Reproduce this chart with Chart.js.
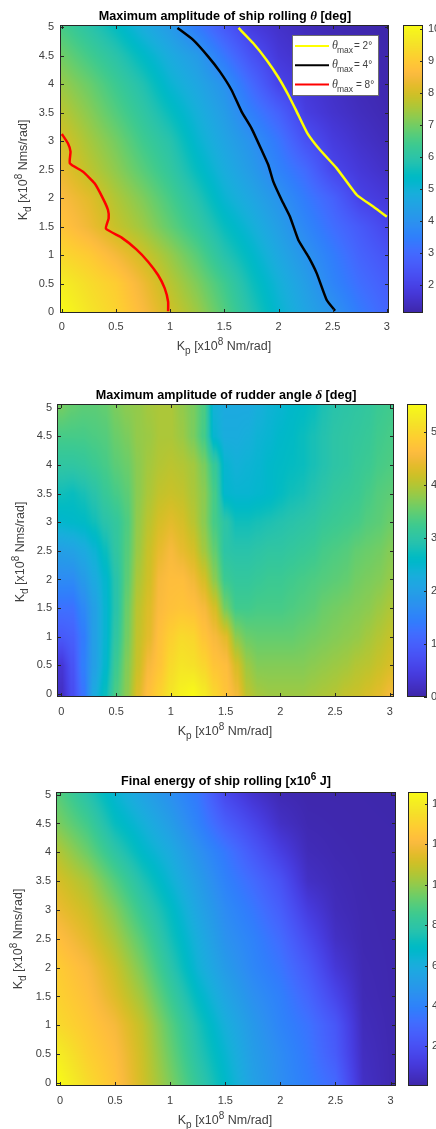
<!DOCTYPE html>
<html><head><meta charset="utf-8">
<style>html,body{margin:0;padding:0;background:#fff;overflow:hidden;width:436px;height:1129px}canvas{position:absolute;display:block}</style>
<script src="https://cdn.jsdelivr.net/npm/chart.js@4/dist/chart.umd.min.js"></script>
</head><body>
<script>
// ---------- values ----------
const kdGrid=[0,0.5,1,1.5,2,2.5,3,3.5,4,4.5,5];
const kpCoarse=[0,0.25,0.5,0.75,1,1.25,1.5,1.75,2,2.25,2.5,2.75,3];
const kpFine=[0,0.1,0.2,0.3,0.4,0.5,0.6,0.7,0.8,0.9,1,1.1,1.2,1.3,1.4,1.5,1.6,1.7,1.8,1.9,2,2.1,2.2,2.3,2.4,2.5,2.6,2.7,2.8,2.9,3];
// rows go from Kd = 0 to Kd = 5
const thetaMax=[
[10.1,9.6,9.2,8.6,7.95,7.4,6.65,5.85,5.15,4.55,4.05,3.4,2.9],
[9.8,9.4,9.05,8.4,7.7,7.1,6.4,5.6,4.95,4.35,3.65,3.1,2.7],
[9.3,9.0,8.5,7.95,7.35,6.7,5.9,5.3,4.65,4.05,3.45,2.85,2.45],
[8.85,8.4,7.85,7.4,6.8,6.2,5.5,4.95,4.35,3.7,3.1,2.6,2.1],
[8.6,8.2,7.6,7.1,6.5,5.85,5.1,4.6,4.05,3.4,2.8,2.0,1.75],
[8.3,7.75,7.25,6.7,6.15,5.45,4.8,4.25,3.6,3.0,2.1,1.75,1.5],
[8.05,7.5,7.0,6.4,5.9,5.15,4.55,4.0,3.3,2.4,1.85,1.55,1.35],
[7.7,7.2,6.65,6.1,5.5,4.9,4.3,3.5,2.8,1.9,1.6,1.4,1.25],
[7.35,6.9,6.35,5.8,5.1,4.6,4.0,3.0,2.05,1.7,1.5,1.3,1.2],
[6.95,6.45,5.95,5.35,4.75,4.25,3.3,2.4,1.75,1.5,1.35,1.25,1.18],
[6.5,6.0,5.45,4.8,4.25,3.4,2.6,1.85,1.55,1.35,1.25,1.2,1.15]];
const rudderMax=[
[0.2,0.7,1.3,2.2,2.7,3.35,3.75,4.3,4.7,4.95,5.2,5.4,5.5,5.3,5.0,4.75,4.5,4.05,3.9,3.85,3.85,3.85,3.85,3.9,3.95,4.0,4.1,4.15,4.25,4.35,4.5],
[0.35,0.8,1.45,2.0,2.5,3.2,3.7,4.15,4.55,4.75,5.05,5.2,5.15,5.0,4.75,4.65,4.25,3.85,3.7,3.7,3.7,3.7,3.7,3.75,3.8,3.85,3.9,4.0,4.05,4.15,4.25],
[0.9,1.0,1.4,2.0,2.45,3.05,3.6,4.1,4.35,4.7,4.9,5.05,5.0,4.75,4.55,4.35,3.75,3.55,3.5,3.5,3.5,3.5,3.55,3.6,3.65,3.7,3.75,3.8,3.9,4.0,4.1],
[1.25,1.25,1.6,2.0,2.45,2.95,3.55,4.05,4.3,4.6,4.7,4.75,4.7,4.55,4.25,3.6,3.25,3.25,3.3,3.3,3.3,3.35,3.4,3.45,3.55,3.6,3.65,3.7,3.75,3.85,3.95],
[1.65,1.65,1.9,2.2,2.5,2.95,3.45,3.95,4.2,4.55,4.65,4.65,4.5,4.25,3.75,3.2,3.1,3.1,3.15,3.2,3.2,3.25,3.3,3.35,3.4,3.45,3.5,3.6,3.65,3.7,3.8],
[2.0,2.05,2.2,2.4,2.7,3.05,3.4,3.85,4.15,4.4,4.55,4.4,4.25,3.9,3.5,3.0,2.95,2.95,3.0,3.05,3.05,3.1,3.15,3.2,3.3,3.35,3.4,3.5,3.55,3.6,3.7],
[2.5,2.55,2.6,2.75,2.95,3.1,3.35,3.8,4.05,4.25,4.35,4.25,4.05,3.75,3.3,3.0,2.75,2.75,2.8,2.85,2.9,2.95,3.0,3.05,3.15,3.2,3.25,3.3,3.4,3.45,3.55],
[2.75,2.7,2.8,2.95,3.15,3.3,3.45,3.75,3.95,4.1,4.15,4.1,3.95,3.75,3.3,2.5,2.45,2.45,2.5,2.55,2.65,2.75,2.8,2.9,3.0,3.1,3.15,3.2,3.3,3.4,3.45],
[3.05,3.05,3.1,3.2,3.3,3.45,3.55,3.75,3.9,4.0,4.05,4.0,3.9,3.65,3.15,2.45,2.35,2.4,2.45,2.55,2.6,2.65,2.7,2.8,2.9,3.0,3.05,3.15,3.2,3.3,3.35],
[3.3,3.3,3.3,3.35,3.4,3.55,3.65,3.8,3.85,3.95,3.95,3.85,3.65,3.3,2.45,2.25,2.25,2.3,2.4,2.45,2.55,2.6,2.7,2.8,2.9,3.0,3.05,3.1,3.15,3.25,3.3],
[3.6,3.5,3.45,3.45,3.5,3.65,3.75,3.8,3.9,3.95,3.95,3.8,3.65,3.35,2.35,2.2,2.2,2.2,2.3,2.4,2.45,2.55,2.6,2.7,2.85,2.95,3.0,3.05,3.1,3.2,3.25]];
const finalEnergy=[
[14.5,13.4,12.5,11.1,9.7,8.2,6.8,5.4,4.5,3.8,3.0,0.6,0.2],
[14.0,13.0,12.3,11.0,9.4,7.8,6.5,5.2,4.4,3.6,2.5,0.5,0.2],
[13.3,12.7,12.0,10.8,9.1,7.5,6.1,5.0,4.1,3.4,2.3,0.4,0.18],
[13.0,12.4,11.4,10.2,8.5,6.9,5.6,4.6,3.9,2.9,1.6,0.3,0.16],
[12.8,12.1,11.0,9.6,7.9,6.3,5.1,4.2,3.5,2.4,1.0,0.25,0.15],
[12.3,11.5,10.4,9.0,7.4,6.0,4.7,4.0,3.1,1.8,0.6,0.2,0.14],
[11.7,11.0,9.8,8.3,7.0,5.6,4.4,3.6,2.6,1.2,0.4,0.18,0.13],
[11.2,10.4,9.0,7.6,6.4,5.2,4.0,3.1,2.1,0.6,0.3,0.16,0.12],
[10.5,9.4,8.0,6.8,5.9,4.7,3.6,2.4,1.3,0.35,0.2,0.14,0.12],
[9.6,8.6,7.1,6.2,5.2,4.0,2.6,1.6,0.6,0.2,0.15,0.12,0.11],
[9.0,7.8,6.5,5.5,4.6,3.6,1.7,0.8,0.25,0.12,0.12,0.11,0.1]];
// contour lines of the first panel, as [Kp, Kd]
const contour2=[[1.631,4.988],[1.767,4.719],[1.89,4.426],[1.998,4.122],[2.091,3.811],[2.168,3.519],[2.267,3.138],[2.384,2.845],[2.538,2.523],[2.723,2.055],[2.877,1.85],[3,1.674]];
const contour4=[[1.067,4.988],[1.212,4.778],[1.351,4.485],[1.459,4.221],[1.566,3.899],[1.659,3.519],[1.751,3.226],[1.844,2.845],[1.906,2.582],[1.952,2.289],[2.029,1.967],[2.106,1.674],[2.183,1.265],[2.276,0.972],[2.353,0.679],[2.445,0.211],[2.522,0.023]];
const contour8=[[0,3.126],[0.056,2.963],[0.08,2.816],[0.074,2.611],[0.194,2.465],[0.302,2.26],[0.379,1.996],[0.426,1.792],[0.432,1.645],[0.407,1.464],[0.549,1.311],[0.688,1.101],[0.796,0.884],[0.888,0.65],[0.95,0.416],[0.981,0.181],[0.981,0.012]];
const legendLabels=['2°','4°','8°'];

// ---------- colour map (parula) ----------
const parula=[[.2422,.1504,.6603],[.2504,.165,.7076],[.2578,.1818,.7511],[.2647,.1978,.7952],[.2706,.2147,.8364],[.2751,.2342,.871],[.2783,.2559,.8991],[.2803,.2782,.9221],[.2813,.3006,.9414],[.281,.3228,.9579],[.2795,.3447,.9717],[.276,.3667,.9829],[.2699,.3892,.9906],[.2602,.4123,.9952],[.244,.4358,.9988],[.2206,.4603,.9973],[.1963,.4847,.9892],[.1834,.5074,.9798],[.1786,.5289,.9682],[.1764,.5499,.952],[.1687,.5703,.9359],[.154,.5902,.9218],[.146,.6091,.9079],[.138,.6276,.8973],[.1248,.6459,.8883],[.1113,.6635,.8763],[.0952,.6798,.8598],[.0689,.6948,.8394],[.0297,.7082,.8163],[.0036,.7203,.7917],[.0067,.7312,.766],[.0433,.7411,.7394],[.0964,.75,.712],[.1408,.7584,.6842],[.1717,.767,.6554],[.1938,.7758,.6251],[.2161,.7843,.5923],[.247,.7918,.5567],[.2906,.7973,.5188],[.3406,.8008,.4789],[.3909,.8029,.4354],[.4456,.8024,.3909],[.5044,.7993,.348],[.5616,.7942,.3045],[.6174,.7876,.2612],[.672,.7793,.2227],[.7242,.7698,.191],[.7738,.7598,.1646],[.8203,.7498,.1535],[.8634,.7406,.1596],[.9035,.733,.1774],[.9393,.7288,.21],[.9728,.7298,.2394],[.9956,.7434,.2371],[.997,.7659,.2199],[.9952,.7893,.2028],[.9892,.8136,.1885],[.9786,.8386,.1766],[.9676,.8639,.1643],[.961,.889,.1537],[.9597,.9135,.1423],[.9628,.9373,.1265],[.9691,.9606,.1064],[.9769,.9839,.0805]];
function cmap(t){
  t=Math.max(0,Math.min(1,t))*(parula.length-1);
  const i=Math.min(parula.length-2,Math.floor(t)),f=t-i,a=parula[i],b=parula[i+1];
  return [0,1,2].map(k=>Math.round(255*(a[k]+(b[k]-a[k])*f)));
}
function locate(arr,v){
  let i=0; while(i<arr.length-2&&v>arr[i+1])i++;
  const f=(v-arr[i])/(arr[i+1]-arr[i]);
  return [i,Math.max(0,Math.min(1,f))];
}
function paintPixels(ctx,a,fn){
  const w=Math.round(a.right-a.left),h=Math.round(a.bottom-a.top);
  const off=document.createElement('canvas');off.width=w;off.height=h;
  const o=off.getContext('2d'),img=o.createImageData(w,h);
  for(let py=0;py<h;py++)for(let px=0;px<w;px++){
    const c=fn(a.left+px+.5,a.top+py+.5),k=(py*w+px)*4;
    img.data[k]=c[0];img.data[k+1]=c[1];img.data[k+2]=c[2];img.data[k+3]=255;
  }
  o.putImageData(img,0,0);ctx.drawImage(off,a.left,a.top);
}
const INK='#262626',TXT='#404040';
const SANS='"Liberation Sans"',SERIF='"Liberation Serif"';
function runs(ctx,list,cx,cy,rot,color){
  ctx.save();ctx.translate(cx,cy);ctx.rotate(rot||0);
  ctx.textBaseline='alphabetic';ctx.textAlign='left';ctx.fillStyle=color;
  let w=0;list.forEach(r=>{ctx.font=r.f;w+=ctx.measureText(r.t).width;});
  let x=-w/2;
  list.forEach(r=>{ctx.font=r.f;ctx.fillText(r.t,x,r.dy||0);x+=ctx.measureText(r.t).width;});
  ctx.restore();
}
function frame(ctx,a){
  ctx.strokeStyle=INK;ctx.lineWidth=1;
  ctx.strokeRect(a.left+.5,a.top+.5,a.right-a.left-1,a.bottom-a.top-1);
}
const heatPlugin={id:'heat',
  beforeDatasetsDraw(c){
    const o=c.options.plugins.heat,xs=c.scales.x,ys=c.scales.y;
    paintPixels(c.ctx,c.chartArea,(px,py)=>{
      let [i,fx]=locate(o.kp,xs.getValueForPixel(px));
      const [j,fy]=locate(kdGrid,ys.getValueForPixel(py));
      if(o.columnar)fx=Math.max(0,Math.min(1,(fx-.1)/.8));
      const g=o.grid;
      const v=(g[j][i]*(1-fx)+g[j][i+1]*fx)*(1-fy)+(g[j+1][i]*(1-fx)+g[j+1][i+1]*fx)*fy;
      return cmap((v-o.cmin)/(o.cmax-o.cmin));
    });
  },
  afterDatasetsDraw(c){
    const o=c.options.plugins.heat,ctx=c.ctx,a=c.chartArea,xs=c.scales.x,ys=c.scales.y;
    ctx.save();ctx.strokeStyle=INK;ctx.lineWidth=1;ctx.beginPath();
    xs.ticks.forEach(t=>{const p=Math.round(xs.getPixelForValue(t.value))+.5;
      ctx.moveTo(p,a.bottom);ctx.lineTo(p,a.bottom-4);ctx.moveTo(p,a.top);ctx.lineTo(p,a.top+4);});
    ys.ticks.forEach(t=>{const p=Math.round(ys.getPixelForValue(t.value))+.5;
      ctx.moveTo(a.left,p);ctx.lineTo(a.left+4,p);ctx.moveTo(a.right,p);ctx.lineTo(a.right-4,p);});
    ctx.stroke();frame(ctx,a);
    runs(ctx,o.title,o.titlePos[0],o.titlePos[1],0,'#000');
    const lab=12.5+'px '+SANS,sub=10+'px '+SANS;
    runs(ctx,[{t:'K',f:lab},{t:'p',f:sub,dy:4},{t:' [x10',f:lab},{t:'8',f:sub,dy:-5},{t:' Nm/rad]',f:lab}],o.xLab[0],o.xLab[1],0,TXT);
    runs(ctx,[{t:'K',f:lab},{t:'d',f:sub,dy:4},{t:' [x10',f:lab},{t:'8',f:sub,dy:-5},{t:' Nms/rad]',f:lab}],o.yLab[0],o.yLab[1],-Math.PI/2,TXT);
    if(o.legend){
      const b=o.legend;
      ctx.fillStyle='#fff';ctx.fillRect(b.x,b.y,b.w,b.h);
      ctx.strokeStyle='#6e6e6e';ctx.strokeRect(b.x+.5,b.y+.5,b.w-1,b.h-1);
      const s='10px '+SANS,m='8.5px '+SANS,th='italic 12px '+SERIF;
      c.data.datasets.slice(1).forEach((d,i)=>{
        const y=b.y+11+i*19.3;
        ctx.strokeStyle=d.borderColor;ctx.lineWidth=2;ctx.beginPath();ctx.moveTo(b.x+3,y);ctx.lineTo(b.x+37,y);ctx.stroke();ctx.lineWidth=1;
        ctx.textAlign='left';ctx.textBaseline='alphabetic';ctx.fillStyle=TXT;
        ctx.font=th;ctx.fillText('θ',b.x+40,y+3);
        ctx.font=m;ctx.fillText('max',b.x+45,y+7);
        ctx.font=s;ctx.fillText('= '+legendLabels[i],b.x+(i==2?64:62),y+3);
      });
    }
  }};
const barPlugin={id:'bar',
  beforeDatasetsDraw(c){
    const o=c.options.plugins.bar,ys=c.scales.y;
    paintPixels(c.ctx,c.chartArea,(px,py)=>cmap((ys.getValueForPixel(py)-o.cmin)/(o.cmax-o.cmin)));
  },
  afterDatasetsDraw(c){
    const ctx=c.ctx,a=c.chartArea,ys=c.scales.y;
    ctx.save();ctx.strokeStyle=INK;ctx.lineWidth=1;ctx.beginPath();
    ys.ticks.forEach(t=>{const p=Math.round(ys.getPixelForValue(t.value))+.5;ctx.moveTo(a.right,p);ctx.lineTo(a.right-3,p);});
    ctx.stroke();frame(ctx,a);ctx.restore();
  }};
function keepInside(s){s.ticks=s.ticks.filter(t=>t.value>=s.min-1e-9&&t.value<=s.max+1e-9);}
const tickFont={family:SANS,size:11};
function axis(min,max,step,position,size,pad){
  return {type:'linear',position,min,max,
    grid:{display:false,drawTicks:false},border:{display:false},
    ticks:{stepSize:step,includeBounds:false,autoSkip:false,maxRotation:0,minRotation:0,padding:pad,color:TXT,font:tickFont,callback:v=>String(+v.toFixed(2))},
    afterBuildTicks:keepInside,
    afterFit(s){if(position==='bottom')s.height=size;else s.width=size;}};
}
function makeCanvas(left,top,w,h){
  const cv=document.createElement('canvas');cv.width=w;cv.height=h;
  cv.style.cssText=`left:${left}px;top:${top}px;width:${w}px;height:${h}px`;
  document.body.appendChild(cv);return cv;
}
function panel(p){
  const H=p.canvasBottom-p.canvasTop;
  const cells=p.grid.flatMap((row,j)=>row.map((v,i)=>({x:p.kp[i],y:kdGrid[j],v})));
  const lines=(p.lines||[]).map(l=>({type:'scatter',label:l.label,showLine:true,data:l.pts.map(q=>({x:q[0],y:q[1]})),borderColor:l.color,borderWidth:2.5,pointRadius:0,tension:0.15,fill:false}));
  new Chart(makeCanvas(0,p.canvasTop,436,H),{
    type:'scatter',plugins:[heatPlugin],
    data:{datasets:[{label:p.name,data:cells,pointRadius:0,pointHoverRadius:0,showLine:false},...lines]},
    options:{responsive:false,animation:false,devicePixelRatio:1,events:[],
      layout:{padding:{left:0,top:p.plot.t-p.canvasTop,right:436-p.plot.r,bottom:0}},
      scales:{x:axis(p.xr[0],p.xr[1],.5,'bottom',p.canvasBottom-p.plot.b,p.xpad),y:axis(p.yr[0],p.yr[1],.5,'left',p.plot.l,p.ypad)},
      plugins:{legend:{display:false},tooltip:{enabled:false},
        heat:{kp:p.kp,grid:p.grid,columnar:p.columnar,cmin:p.c[0],cmax:p.c[1],title:p.title,titlePos:[p.titlePos[0],p.titlePos[1]-p.canvasTop],xLab:[p.xLab[0],p.xLab[1]-p.canvasTop],yLab:[p.yLab[0],p.yLab[1]-p.canvasTop],legend:p.legend&&{...p.legend,y:p.legend.y-p.canvasTop}}}}
  });
  const bl=p.bar[0],br=p.bar[1];
  new Chart(makeCanvas(bl,p.canvasTop,436-bl,H),{
    type:'scatter',plugins:[barPlugin],
    data:{datasets:[{label:'colorbar',data:[{x:.5,y:p.c[0]},{x:.5,y:p.c[1]}],pointRadius:0}]},
    options:{responsive:false,animation:false,devicePixelRatio:1,events:[],
      layout:{padding:{left:0,top:p.plot.t-p.canvasTop,right:0,bottom:p.canvasBottom-p.plot.b}},
      scales:{x:{type:'linear',display:false,min:0,max:1},y:axis(p.c[0],p.c[1],p.cstep,'right',436-br,p.cpad)},
      plugins:{legend:{display:false},tooltip:{enabled:false},bar:{cmin:p.c[0],cmax:p.c[1]}}}
  });
}
const B='bold 12.6px '+SANS,BI='italic bold 13px '+SERIF;
document.fonts.ready.then(()=>{
panel({name:'Maximum amplitude of ship rolling θ',canvasTop:0,canvasBottom:362,plot:{l:60,r:389,t:25,b:313},
  xr:[-0.017,3.02],yr:[-0.017,5.04],c:[1.13,10.12],cstep:1,cpad:5,xpad:7,ypad:6,bar:[403,423],kp:kpCoarse,grid:thetaMax,
  title:[{t:'Maximum amplitude of ship rolling ',f:B},{t:'θ',f:BI},{t:' [deg]',f:B}],titlePos:[225,20],
  xLab:[224,350],yLab:[27,170],
  lines:[{label:'θmax = 2°',pts:contour2,color:'#ffff00'},{label:'θmax = 4°',pts:contour4,color:'#000000'},{label:'θmax = 8°',pts:contour8,color:'#ff0000'}],
  legend:{x:292,y:35,w:87,h:61}});
panel({name:'Maximum amplitude of rudder angle δ',canvasTop:380,canvasBottom:762,plot:{l:57,r:394,t:404,b:697},
  xr:[-0.04,3.038],yr:[-0.052,5.064],c:[0,5.526],cstep:1,cpad:4,xpad:8,ypad:5,bar:[407,427],kp:kpFine,grid:rudderMax,columnar:true,
  title:[{t:'Maximum amplitude of rudder angle ',f:B},{t:'δ',f:BI},{t:' [deg]',f:B}],titlePos:[226,398.5],
  xLab:[225,735],yLab:[24,552],});
panel({name:'Final energy of ship rolling',canvasTop:765,canvasBottom:1129,plot:{l:56,r:396,t:792,b:1086},
  xr:[-0.036,3.049],yr:[-0.052,5.046],c:[0.03,14.6],cstep:2,cpad:4,xpad:8,ypad:5,bar:[408,428],kp:kpCoarse,grid:finalEnergy,
  title:[{t:'Final energy of ship rolling [x10',f:B},{t:'6',f:'bold 10px '+SANS,dy:-5},{t:' J]',f:B}],titlePos:[226,785],
  xLab:[225,1124],yLab:[22,939],});
});
</script>
</body></html>
